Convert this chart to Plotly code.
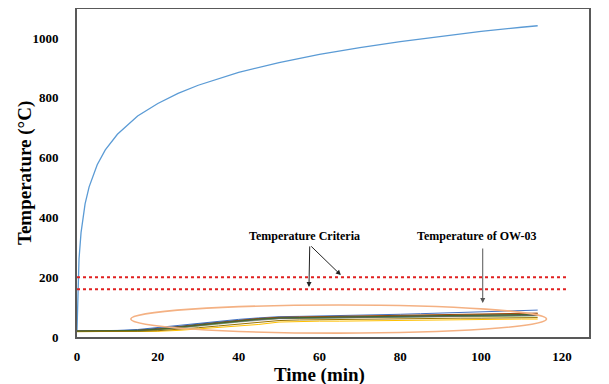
import plotly.graph_objects as go

# ---- data ----
fire_time = [0, 0.5, 1, 2, 3, 5, 7, 10, 15, 20, 25, 30, 40, 50, 60, 70, 80, 90, 100, 110, 114]
fire_temp = [20, 261, 349, 445, 502, 576, 626, 678, 739, 781, 815, 842, 885, 918, 945, 968, 988, 1006, 1022, 1036, 1041]

ow_time = [0, 5, 10, 15, 20, 25, 30, 35, 40, 45, 50, 55, 60, 65, 70, 75, 80, 85, 90, 95, 100, 105, 110, 114]
ow_01 = [20, 20, 20, 21, 25, 32, 40, 48, 55, 61, 65, 66, 67, 68, 69, 70, 71, 72, 73, 74, 75, 76, 77, 78]
ow_02 = [19, 19, 19, 20, 23, 29, 36, 43, 50, 56, 61, 62, 63, 64, 65, 66, 67, 67, 68, 69, 70, 71, 71, 72]
ow_03 = [18, 18, 18, 18, 19, 22, 27, 31, 35, 42, 50, 52, 53, 53, 54, 55, 56, 57, 58, 58, 59, 59, 60, 60]
ow_04 = [20, 20, 22, 25, 32, 40, 47, 53, 59, 64, 68, 69, 70, 71, 73, 74, 76, 78, 80, 82, 84, 86, 88, 90]
ow_05 = [19, 19, 19, 20, 24, 31, 38, 45, 52, 58, 62, 63, 64, 65, 65, 66, 67, 68, 68, 69, 69, 70, 70, 71]
ow_06 = [20, 20, 21, 23, 28, 35, 43, 50, 56, 61, 64, 65, 66, 67, 67, 68, 69, 70, 71, 71, 72, 73, 73, 74]
ow_07 = [20, 20, 20, 22, 27, 34, 42, 49, 56, 62, 66, 67, 68, 69, 70, 71, 72, 73, 75, 76, 77, 78, 79, 80]
ow_08 = [19, 19, 19, 21, 25, 31, 38, 46, 53, 58, 62, 63, 64, 65, 66, 66, 67, 68, 69, 70, 70, 71, 72, 72]
ow_09 = [18, 18, 18, 19, 21, 25, 31, 37, 43, 49, 55, 57, 58, 59, 59, 60, 61, 62, 62, 63, 63, 64, 64, 65]
ow_10 = [20, 20, 20, 22, 26, 33, 41, 48, 55, 60, 64, 65, 66, 67, 68, 69, 70, 70, 71, 72, 73, 74, 75, 76]
ow_names = ["OW-01", "OW-02", "OW-03", "OW-04", "OW-05", "OW-06", "OW-07", "OW-08", "OW-09", "OW-10"]
ow_series = [ow_01, ow_02, ow_03, ow_04, ow_05, ow_06, ow_07, ow_08, ow_09, ow_10]
ow_colors = ["#ED7D31", "#A5A5A5", "#FFC000", "#4472C4", "#70AD47",
             "#255E91", "#9E480E", "#636363", "#997300", "#43682B"]

criteria_time = [0, 121]
criteria_high = [200, 200]
criteria_low = [160, 160]

x_ticks = [0, 20, 40, 60, 80, 100, 120]
y_ticks = [0, 200, 400, 600, 800, 1000]

FONT = "Liberation Serif"

fig = go.Figure()
fig.add_trace(go.Scatter(x=fire_time, y=fire_temp, mode="lines", name="Furnace",
                         line=dict(color="#5B9BD5", width=1.3)))
for name, ys, c in zip(ow_names, ow_series, ow_colors):
    fig.add_trace(go.Scatter(x=ow_time, y=ys, mode="lines", name=name,
                             line=dict(color=c, width=1)))
for ys in (criteria_high, criteria_low):
    fig.add_trace(go.Scatter(x=criteria_time, y=ys, mode="lines",
                             line=dict(color="#E02020", width=2, dash="dot")))

# ellipse
fig.add_shape(type="circle", xref="x", yref="y", x0=13.3, x1=116.2, y0=13, y1=107,
              line=dict(color="#F4B183", width=1.6))

ann_font = dict(family=FONT, size=12, color="black")
fig.add_annotation(x=56.4, y=338, xref="x", yref="y", text="<b>Temperature Criteria</b>",
                   showarrow=False, font=ann_font)
fig.add_annotation(x=99.0, y=338, xref="x", yref="y", text="<b>Temperature of OW-03</b>",
                   showarrow=False, font=ann_font)
for hx, hy, tx, ty, col in [(57.4, 167, 57.6, 308, "#222222"),
                            (65.3, 207, 57.6, 308, "#222222"),
                            (100.4, 114, 100.4, 301, "#555555")]:
    fig.add_annotation(x=hx, y=hy, ax=tx, ay=ty, xref="x", yref="y", axref="x", ayref="y",
                       text="", showarrow=True, arrowhead=2, arrowsize=1, arrowwidth=1,
                       arrowcolor=col)

# axis titles
fig.add_annotation(xref="paper", yref="paper", x=(319 - 77) / 512, y=-(375 - 337) / 328,
                   text="<b>Time (min)</b>", showarrow=False, yanchor="middle",
                   font=dict(family=FONT, size=19, color="black"))
fig.add_annotation(xref="paper", yref="paper", x=(25 - 77) / 512, y=0.5,
                   text="<b>Temperature (°C)</b>", showarrow=False, textangle=-90,
                   xanchor="center", yanchor="middle",
                   font=dict(family=FONT, size=19, color="black"))

# page body has an 8px default margin: figure is sized/offset to compensate
fig.update_layout(
    width=601, height=376,
    margin=dict(l=69, r=20, t=1, b=47),
    plot_bgcolor="white", paper_bgcolor="white",
    showlegend=False,
    xaxis=dict(range=[0, 126.7], tickvals=x_ticks, ticktext=[f"<b>{v}</b>" for v in x_ticks],
               showgrid=False, zeroline=False, showline=True, mirror=True, automargin=False,
               linecolor="#595959", linewidth=2, ticks="", ticklabelstandoff=6,
               tickfont=dict(family=FONT, size=13, color="black")),
    yaxis=dict(range=[0, 1097], tickvals=y_ticks, ticktext=[f"<b>{v}</b>" for v in y_ticks],
               showgrid=False, zeroline=False, showline=True, mirror=True, automargin=False,
               linecolor="#595959", linewidth=2, ticks="", ticklabelstandoff=14,
               tickfont=dict(family=FONT, size=13, color="black")),
)

fig.write_html("out.html")
